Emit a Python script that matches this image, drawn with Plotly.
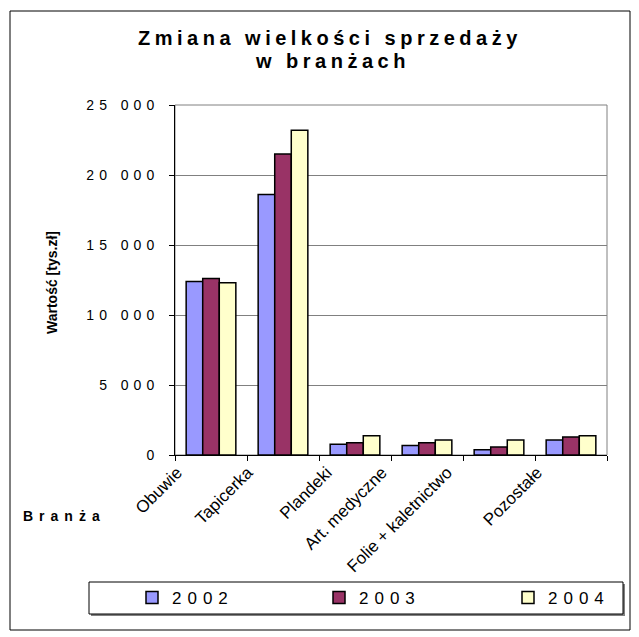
import plotly.graph_objects as go

# Sales by industry (thousand PLN)
categories = ["Obuwie", "Tapicerka", "Plandeki", "Art. medyczne",
              "Folie + kaletnictwo", "Pozostałe"]
years = ["2002", "2003", "2004"]
sales_2002 = [12400, 18600, 760, 670, 380, 1070]
sales_2003 = [12600, 21500, 880, 880, 570, 1290]
sales_2004 = [12300, 23200, 1380, 1070, 1070, 1380]
y_ticks = [0, 5000, 10000, 15000, 20000, 25000]

series = [sales_2002, sales_2003, sales_2004]
colors = ["#9999FF", "#993366", "#FFFFCC"]

W, H = 639, 637
L, R, T, B = 175, 32, 105, 182
PW, PH = W - L - R, H - T - B

FONT = "Liberation Sans"


def px_x(X):
    return (X - L) / PW


def px_y(Y):
    return (H - B - Y) / PH


def spaced(s, px):
    return f"<span style='letter-spacing:{px}px'>{s}</span>"


def spaced_bold(s, px):
    return f"<b style='letter-spacing:{px}px'>{s}</b>"


x_pos = list(range(len(categories)))
# where each slanted category label ends along the x axis
label_anchor = [-0.47, 0.51, 1.61, 2.375, 3.28, 4.53]
# left edge (px) of each legend entry
legend_left = [132, 319, 508]
legend_ids = ["legend", "legend2", "legend3"]

fig = go.Figure()
for name, vals, col, lid in zip(years, series, colors, legend_ids):
    fig.add_trace(go.Bar(
        x=x_pos, y=vals, name=spaced(name, 6), legend=lid,
        marker=dict(color=col, line=dict(color="black", width=1.5)),
    ))

legend_style = dict(
    orientation="h", xanchor="left", yanchor="middle",
    font=dict(family=FONT, size=17, color="black"),
    bgcolor="rgba(0,0,0,0)", borderwidth=0,
)
legends = {
    lid: dict(legend_style, x=px_x(lx), y=px_y(598))
    for lid, lx in zip(legend_ids, legend_left)
}

fig.update_layout(
    width=W, height=H,
    margin=dict(l=L, r=R, t=T, b=B),
    paper_bgcolor="white", plot_bgcolor="white",
    font=dict(family=FONT, color="black"),
    barmode="group", bargap=0.31, bargroupgap=0,
    showlegend=True,
    **legends,
    xaxis=dict(
        range=[-0.5, 5.5],
        tickvals=label_anchor, ticktext=categories,
        tickangle=-45, ticks="",
        tickfont=dict(family=FONT, size=17, color="black"),
        showline=True, linecolor="black", linewidth=1,
        showgrid=False, zeroline=False,
    ),
    xaxis2=dict(
        overlaying="x", anchor="y", side="bottom",
        range=[-0.5, 5.5],
        tickvals=[i - 0.5 for i in range(len(categories) + 1)],
        ticks="outside", ticklen=5, tickcolor="black", tickwidth=1,
        showticklabels=False, showline=False, showgrid=False,
        zeroline=False,
    ),
    yaxis=dict(
        range=[0, 25000],
        tickvals=y_ticks,
        ticktext=[spaced(f"{v:,}".replace(",", " "), 5) for v in y_ticks],
        tickfont=dict(family=FONT, size=14, color="black"),
        ticks="outside", ticklen=5, tickcolor="black",
        ticklabelstandoff=7,
        showline=True, linecolor="black", linewidth=1,
        showgrid=True, gridcolor="#808080", gridwidth=1,
        zeroline=False,
    ),
)

# dummy trace so the overlaid axis carrying the boundary ticks is drawn
fig.add_trace(go.Scatter(x=[None], y=[None], xaxis="x2", yaxis="y",
                         showlegend=False, hoverinfo="skip"))

shapes = [
    # plot-area frame
    dict(type="rect", xref="x domain", yref="y domain", x0=0, x1=1, y0=0, y1=1,
         line=dict(color="#808080", width=1), layer="below"),
    # chart border
    dict(type="rect", xref="paper", yref="paper",
         x0=px_x(10), x1=px_x(630), y0=px_y(11), y1=px_y(630),
         line=dict(color="black", width=1)),
    # legend shadow and box
    dict(type="rect", xref="paper", yref="paper",
         x0=px_x(91), x1=px_x(625), y0=px_y(584), y1=px_y(616),
         line=dict(width=0), fillcolor="#808080", layer="below"),
    dict(type="rect", xref="paper", yref="paper",
         x0=px_x(89), x1=px_x(623), y0=px_y(582), y1=px_y(614),
         line=dict(color="black", width=1), fillcolor="white", layer="below"),
]
fig.update_layout(shapes=shapes)

title_font = dict(family=FONT, size=20, color="black", weight="bold")
fig.add_annotation(text=spaced_bold("Zmiana wielkości sprzedaży", 4.5),
                   xref="paper", yref="paper", x=px_x(330), y=px_y(38),
                   showarrow=False, xanchor="center", yanchor="middle",
                   font=title_font)
fig.add_annotation(text=spaced_bold("w branżach", 4.5),
                   xref="paper", yref="paper", x=px_x(332), y=px_y(61),
                   showarrow=False, xanchor="center", yanchor="middle",
                   font=title_font)
fig.add_annotation(text="<b>Wartość [tys.zł]</b>", textangle=-90,
                   xref="paper", yref="paper", x=px_x(52), y=px_y(283),
                   showarrow=False, xanchor="center", yanchor="middle",
                   font=dict(family=FONT, size=14, color="black", weight="bold"))
fig.add_annotation(text=spaced_bold("Branża", 6),
                   xref="paper", yref="paper", x=px_x(64), y=px_y(516),
                   showarrow=False, xanchor="center", yanchor="middle",
                   font=dict(family=FONT, size=14, color="black", weight="bold"))

fig.write_html("out.html")
